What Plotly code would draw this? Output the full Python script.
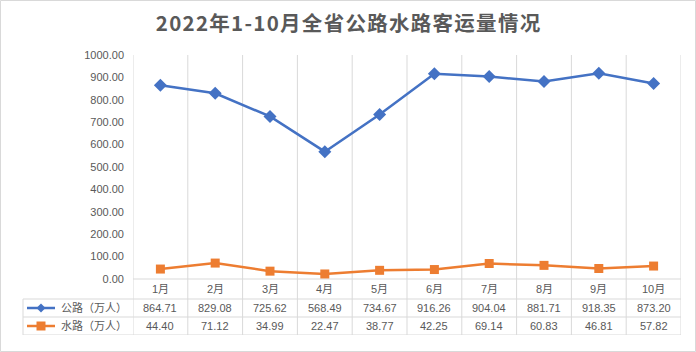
import plotly.graph_objects as go

months = ["1月", "2月", "3月", "4月", "5月", "6月", "7月", "8月", "9月", "10月"]
road = [864.71, 829.08, 725.62, 568.49, 734.67, 916.26, 904.04, 881.71, 918.35, 873.20]
water = [44.40, 71.12, 34.99, 22.47, 38.77, 42.25, 69.14, 60.83, 46.81, 57.82]
series_names = ["公路（万人）", "水路（万人）"]
title_text = "2022年1-10月全省公路水路客运量情况"
yticks = [0, 100, 200, 300, 400, 500, 600, 700, 800, 900, 1000]

W, H = 696, 352
L, R, T, B = 133, 15, 55, 17
PW = W - L - R
PH = H - T - B
YMIN, YMAX = -250, 1000
upp = (YMAX - YMIN) / PH  # data units per pixel

BLUE = "#4472C4"
ORANGE = "#ED7D31"
GRID = "#D9D9D9"
TXT = "#595959"
FONT = "Liberation Sans, Noto Sans CJK SC, sans-serif"

def px_x(px):
    return (px - L) / PW

def px_y(py):
    # pixel y -> data y
    return YMAX - (py - T) * upp

fig = go.Figure()
fig.add_trace(go.Scatter(x=months, y=road, mode="lines+markers", name=series_names[0],
                         line=dict(color=BLUE, width=2.5),
                         marker=dict(symbol="diamond", size=10, color=BLUE)))
fig.add_trace(go.Scatter(x=months, y=water, mode="lines+markers", name=series_names[1],
                         line=dict(color=ORANGE, width=2.5),
                         marker=dict(symbol="square", size=9, color=ORANGE)))

shapes = []
n = len(months)
# vertical grid lines at category boundaries
for i in range(n + 1):
    shapes.append(dict(type="line", xref="x", yref="y", x0=i - 0.5, x1=i - 0.5,
                       y0=YMAX, y1=YMIN, line=dict(color=GRID, width=1), layer="below"))
# table rows
row_edges = [0, px_y(299), px_y(317), px_y(335)]
shapes.append(dict(type="line", xref="x", yref="y", x0=-0.5, x1=n - 0.5, y0=0, y1=0,
                   line=dict(color=GRID, width=1), layer="below"))
for ye in row_edges[1:]:
    shapes.append(dict(type="line", xref="paper", yref="y", x0=px_x(23), x1=px_x(681),
                       y0=ye, y1=ye, line=dict(color=GRID, width=1), layer="below"))
shapes.append(dict(type="line", xref="paper", yref="y", x0=px_x(23), x1=px_x(23),
                   y0=row_edges[1], y1=row_edges[3], line=dict(color=GRID, width=1)))
# outer border
shapes.append(dict(type="rect", xref="paper", yref="paper",
                   x0=(0.5 - L) / PW, x1=(W - 0.5 - L) / PW,
                   y0=-(B - 0.5) / PH, y1=1 + (T - 0.5) / PH,
                   line=dict(color=GRID, width=1)))

annotations = []
hdr_y = (row_edges[0] + row_edges[1]) / 2
r1_y = (row_edges[1] + row_edges[2]) / 2
r2_y = (row_edges[2] + row_edges[3]) / 2
for i, m in enumerate(months):
    annotations.append(dict(x=i, y=hdr_y, xref="x", yref="y", text=m, showarrow=False,
                            font=dict(size=11, color=TXT, family=FONT)))
    annotations.append(dict(x=i, y=r1_y, xref="x", yref="y", text=f"{road[i]:.2f}", showarrow=False,
                            font=dict(size=11, color=TXT, family=FONT)))
    annotations.append(dict(x=i, y=r2_y, xref="x", yref="y", text=f"{water[i]:.2f}", showarrow=False,
                            font=dict(size=11, color=TXT, family=FONT)))

# legend keys in table
for yc, col, sym, name in [(r1_y, BLUE, "diamond", series_names[0]), (r2_y, ORANGE, "square", series_names[1])]:
    shapes.append(dict(type="line", xref="paper", yref="y", x0=px_x(27), x1=px_x(55), y0=yc, y1=yc,
                       line=dict(color=col, width=2.5)))
    hx = 4.5 / PW
    hy = 4.5 * upp
    cx = px_x(41)
    if sym == "diamond":
        path = f"M {cx - hx} {yc} L {cx} {yc + hy} L {cx + hx} {yc} L {cx} {yc - hy} Z"
    else:
        path = f"M {cx - hx} {yc - hy} L {cx - hx} {yc + hy} L {cx + hx} {yc + hy} L {cx + hx} {yc - hy} Z"
    shapes.append(dict(type="path", xref="paper", yref="y", path=path,
                       fillcolor=col, line=dict(color=col, width=0)))
    annotations.append(dict(x=px_x(59), y=yc, xref="paper", yref="y", text=name, showarrow=False,
                            xanchor="left", font=dict(size=11, color=TXT, family=FONT)))

spaced_title = "\u200a".join(title_text)

fig.update_layout(
    width=W, height=H,
    margin=dict(l=L, r=R, t=T, b=B),
    paper_bgcolor="white", plot_bgcolor="white",
    showlegend=False,
    title=dict(text=spaced_title, x=0.5, xref="container", xanchor="center", y=1 - 24 / H, yanchor="middle",
               font=dict(size=20.5, color=TXT, family="Noto Sans CJK SC, sans-serif", weight="bold")),
    xaxis=dict(type="category", range=[-0.5, n - 0.5], showgrid=False, showticklabels=False,
               zeroline=False, showline=False, ticks=""),
    yaxis=dict(range=[YMIN, YMAX], tickvals=yticks, ticktext=[f"{v:.2f}" for v in yticks],
               showgrid=False, zeroline=False, showline=False, ticks="",
               tickfont=dict(size=11, color=TXT, family=FONT), ticklabelstandoff=8),
    shapes=shapes, annotations=annotations,
    hovermode=False,
)
fig.write_html("out.html", config=dict(displayModeBar=False, staticPlot=True))
